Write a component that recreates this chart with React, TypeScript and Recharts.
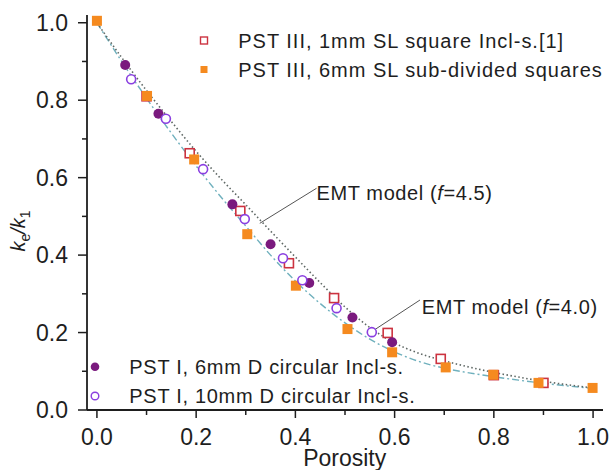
import React from 'react';
import { ComposedChart, Scatter, Line, XAxis, YAxis, ReferenceLine, ReferenceDot, Legend } from 'recharts';

const FONT = '"Liberation Sans", Arial, Helvetica, sans-serif';
const INK = '#1e1e1e';
const RED = '#cc3340';
const ORANGE = '#f58a1f';
const PURPLE = '#7a1a7e';
const VIOLET = '#8a3fe0';
const DOT_GREY = '#5f6865';
const TEAL = '#6fb0bd';

// PST III, 1mm SL square inclusions [1]
const sq1X = [0.1, 0.187, 0.289, 0.387, 0.478, 0.586, 0.693, 0.8, 0.9];
const sq1Y = [0.81, 0.663, 0.514, 0.379, 0.289, 0.199, 0.132, 0.09, 0.07];
// PST III, 6mm SL sub-divided squares
const sq6X = [0.0, 0.101, 0.196, 0.303, 0.401, 0.505, 0.595, 0.703, 0.799, 0.89, 0.999];
const sq6Y = [1.005, 0.811, 0.647, 0.454, 0.321, 0.209, 0.149, 0.11, 0.091, 0.07, 0.057];
// PST I, 6mm D circular inclusions
const c6X = [0.057, 0.124, 0.273, 0.35, 0.428, 0.515, 0.595];
const c6Y = [0.891, 0.765, 0.531, 0.428, 0.328, 0.239, 0.175];
// PST I, 10mm D circular inclusions
const c10X = [0.069, 0.139, 0.214, 0.298, 0.375, 0.414, 0.483, 0.554];
const c10Y = [0.854, 0.752, 0.622, 0.493, 0.392, 0.335, 0.263, 0.201];
// EMT model curves
const curveX = [0, 0.05, 0.1, 0.15, 0.2, 0.25, 0.3, 0.35, 0.4, 0.45, 0.5, 0.55, 0.6, 0.65, 0.7, 0.75, 0.8, 0.85, 0.9, 0.95, 1.0];
const emt45Y = [1.0, 0.91, 0.825, 0.745, 0.668, 0.597, 0.53, 0.462, 0.395, 0.329, 0.266, 0.213, 0.173, 0.146, 0.127, 0.111, 0.097, 0.085, 0.074, 0.065, 0.057];
const emt40Y = [1.0, 0.9, 0.805, 0.715, 0.63, 0.55, 0.475, 0.4, 0.333, 0.275, 0.225, 0.183, 0.15, 0.125, 0.108, 0.096, 0.086, 0.077, 0.069, 0.062, 0.056];

const xTicks = [0, 0.1, 0.2, 0.3, 0.4, 0.5, 0.6, 0.7, 0.8, 0.9, 1.0];
const yTicks = [0, 0.1, 0.2, 0.3, 0.4, 0.5, 0.6, 0.7, 0.8, 0.9, 1.0];

const legendTop = ['PST III, 1mm SL square Incl-s.[1]', 'PST III, 6mm SL sub-divided squares'];
const legendBottom = ['PST I, 6mm D circular Incl-s.', 'PST I, 10mm D circular Incl-s.'];

const zip = (xs: number[], ys: number[]) => xs.map((x, i) => ({ x, y: ys[i] }));
const sq1 = zip(sq1X, sq1Y);
const sq6 = zip(sq6X, sq6Y);
const c6 = zip(c6X, c6Y);
const c10 = zip(c10X, c10Y);
const emt45 = zip(curveX, emt45Y);
const emt40 = zip(curveX, emt40Y);

const isMajor = (v: number) => Math.round(v * 10) % 2 === 0;

const XTick = (props: any) => {
  const { x, y, payload } = props;
  const v = payload.value;
  const major = isMajor(v);
  return (
    <g>
      <line x1={x} x2={x} y1={y} y2={y + (major ? 8 : 5)} stroke={INK} strokeWidth={1.5} />
      {major && (
        <text x={x} y={y + 27} textAnchor="middle" dominantBaseline="central" fontSize={23} fontFamily={FONT} fill={INK}>
          {v.toFixed(1)}
        </text>
      )}
    </g>
  );
};

const YTick = (props: any) => {
  const { x, y, payload } = props;
  const v = payload.value;
  const major = isMajor(v);
  return (
    <g>
      <line x1={x} x2={x - (major ? 9 : 5)} y1={y} y2={y} stroke={INK} strokeWidth={1.5} />
      {major && (
        <text x={x - 19} y={y} textAnchor="end" dominantBaseline="central" fontSize={23} fontFamily={FONT} fill={INK}>
          {v.toFixed(1)}
        </text>
      )}
    </g>
  );
};

const OpenSquare = (p: any) => (
  <rect x={p.cx - 4.5} y={p.cy - 4.5} width={9} height={9} fill="#fff" stroke={RED} strokeWidth={1.6} />
);
const FilledSquare = (p: any) => (
  <rect x={p.cx - 5} y={p.cy - 5} width={10} height={10} fill={ORANGE} />
);
const FilledCircle = (p: any) => <circle cx={p.cx} cy={p.cy} r={5} fill={PURPLE} />;
const OpenCircle = (p: any) => (
  <circle cx={p.cx} cy={p.cy} r={4.5} fill="#fff" stroke={VIOLET} strokeWidth={1.6} />
);

const makeAnno = (value: string) => (props: any) => {
  const vb = props.viewBox || {};
  return (
    <text x={vb.x} y={vb.y} dominantBaseline="central" fontSize={20} letterSpacing={0.6} fontFamily={FONT} fill={INK}>
      EMT model (<tspan fontStyle="italic">f</tspan>={value})
    </text>
  );
};

const Overlay = () => (
  <svg width={609} height={470} style={{ display: 'block', overflow: 'visible' }}>
    {/* top legend */}
    <rect x={200.5} y={37} width={7} height={7} fill="#fff" stroke={RED} strokeWidth={1.4} />
    <rect x={200.5} y={66} width={7} height={7} fill={ORANGE} />
    {legendTop.map((t, i) => (
      <text key={t} x={238.3} y={40.5 + i * 29} dominantBaseline="central" fontSize={20} letterSpacing={0.98} fontFamily={FONT} fill={INK}>
        {t}
      </text>
    ))}
    {/* bottom legend */}
    <circle cx={95} cy={366.7} r={4.3} fill={PURPLE} />
    <circle cx={95} cy={396} r={3.8} fill="#fff" stroke={VIOLET} strokeWidth={1.4} />
    {legendBottom.map((t, i) => (
      <text key={t} x={129.3} y={366.7 + i * 29.3} dominantBaseline="central" fontSize={20} letterSpacing={0.7} fontFamily={FONT} fill={INK}>
        {t}
      </text>
    ))}
    {/* axis titles */}
    <text x={344.7} y={458} textAnchor="middle" dominantBaseline="central" fontSize={23} fontFamily={FONT} fill={INK}>
      Porosity
    </text>
    <text transform="rotate(-90, 25, 231)" x={25} y={231} textAnchor="middle" fontSize={20} fontFamily={FONT} fill={INK}>
      <tspan fontStyle="italic">k</tspan>
      <tspan dy={5} fontSize={14}>e</tspan>
      <tspan dy={-5} fontStyle="italic">/k</tspan>
      <tspan dy={5} fontSize={14}>1</tspan>
    </text>
  </svg>
);

export default function App() {
  return (
    <div style={{ position: 'absolute', left: 0, top: 0, width: 609, height: 470, background: '#fff' }}>
      <ComposedChart width={609} height={470} margin={{ top: 15, right: 6, bottom: 0, left: 7 }}>
        <XAxis
          dataKey="x"
          type="number"
          domain={[-0.02, 1.02]}
          allowDataOverflow
          ticks={xTicks}
          interval={0}
          height={60}
          tickSize={0}
          tickMargin={0}
          tickLine={false}
          tick={<XTick />}
          axisLine={{ stroke: INK, strokeWidth: 1.8 }}
        />
        <XAxis
          xAxisId="top"
          orientation="top"
          type="number"
          domain={[-0.02, 1.02]}
          allowDataOverflow
          height={0}
          tick={false}
          tickLine={false}
          axisLine={{ stroke: INK, strokeWidth: 1.8 }}
        />
        <YAxis
          dataKey="y"
          type="number"
          domain={[0, 1.02]}
          allowDataOverflow
          ticks={yTicks}
          interval={0}
          width={80}
          tickSize={0}
          tickMargin={0}
          tickLine={false}
          tick={<YTick />}
          axisLine={{ stroke: INK, strokeWidth: 1.8 }}
        />
        <YAxis
          yAxisId="right"
          orientation="right"
          type="number"
          domain={[0, 1.02]}
          allowDataOverflow
          width={0}
          tick={false}
          tickLine={false}
          axisLine={{ stroke: INK, strokeWidth: 1.8 }}
        />
        <Line data={emt40} dataKey="y" type="monotone" stroke={TEAL} strokeWidth={1.4} strokeDasharray="7 3 2 3" dot={false} isAnimationActive={false} name="EMT f=4.0" />
        <Line data={emt45} dataKey="y" type="monotone" stroke={DOT_GREY} strokeWidth={1.6} strokeDasharray="1.5 2.5" dot={false} isAnimationActive={false} name="EMT f=4.5" />
        <Scatter data={sq1} dataKey="y" shape={OpenSquare} isAnimationActive={false} name={legendTop[0]} />
        <Scatter data={sq6} dataKey="y" shape={FilledSquare} isAnimationActive={false} name={legendTop[1]} />
        <Scatter data={c6} dataKey="y" shape={FilledCircle} isAnimationActive={false} name={legendBottom[0]} />
        <Scatter data={c10} dataKey="y" shape={OpenCircle} isAnimationActive={false} name={legendBottom[1]} />
        <ReferenceLine segment={[{ x: 0.4427, y: 0.5727 }, { x: 0.3283, y: 0.4821 }]} stroke="#555" strokeWidth={1} />
        <ReferenceLine segment={[{ x: 0.6511, y: 0.284 }, { x: 0.5537, y: 0.2022 }]} stroke="#555" strokeWidth={1} />
        <ReferenceDot x={0.4427} y={0.5595} r={0} fill="none" stroke="none" label={makeAnno('4.5')} />
        <ReferenceDot x={0.6546} y={0.2667} r={0} fill="none" stroke="none" label={makeAnno('4.0')} />
        <Legend
          layout="vertical"
          align="center"
          verticalAlign="middle"
          width={609}
          height={470}
          wrapperStyle={{ left: 0, top: 0, width: 609, height: 470, pointerEvents: 'none', margin: 0, padding: 0 }}
          content={() => <Overlay />}
        />
      </ComposedChart>
    </div>
  );
}
